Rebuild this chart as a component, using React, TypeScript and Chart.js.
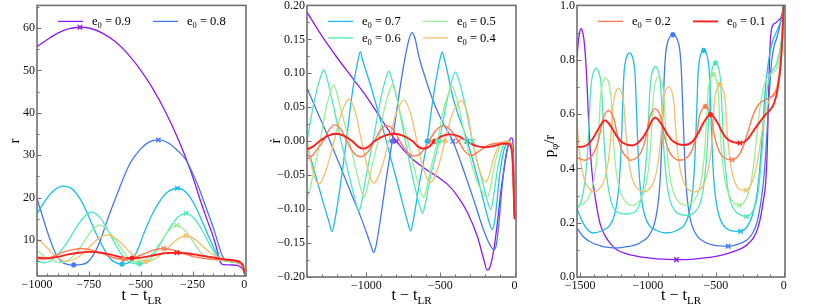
import React, { useEffect, useRef } from "react";
import { Chart, registerables } from "chart.js";

Chart.register(...registerables);

type Pt = [number, number];
const FONT = '"Liberation Serif", "Times New Roman", serif';
const FRAME = "#707070";

// ---- series identity ----
const eccLabels = ["0.9", "0.8", "0.7", "0.6", "0.5", "0.4", "0.2", "0.1"];
const eccColors = ["#8c1cf0", "#4478f2", "#1cbde8", "#4de8c0", "#9aee96", "#f3c06c", "#ff7d52", "#ff1f1f"];
const eccWidths = [1.3, 1.3, 1.3, 1.3, 1.3, 1.3, 1.4, 1.9];

// ---- tick labels ----
const rXTicks = [-1000, -750, -500, -250, 0];
const rYTicks = [10, 20, 30, 40, 50, 60];
const rdXTicks = [-1000, -500, 0];
const rdYTicks = [-0.2, -0.15, -0.1, -0.05, 0, 0.05, 0.1, 0.15, 0.2];
const pXTicks = [-1500, -1000, -500, 0];
const pYTicks = [0, 0.2, 0.4, 0.6, 0.8, 1.0];

// ---- panel 1 : r ----
const r09: Pt[] = [[-1000,55.6],[-950,57.3],[-900,58.8],[-850,59.8],[-793,60.2],[-740,59.9],[-680,58.7],[-620,56.7],[-560,53.8],[-500,50.1],[-440,45.6],[-380,40.2],[-320,33.9],[-278,28.8],[-240,23.6],[-214,19.6],[-180,14.8],[-149,10.6],[-130,7.4],[-120,5.4],[-112,4.5],[-100,4.2],[-60,4.1],[-35,4.0],[-15,3.5],[-5,2.8],[0,2.2]];
const r08: Pt[] = [[-1000,19.8],[-970,15],[-940,10.5],[-910,6.8],[-880,4.8],[-850,4.2],[-823,4.1],[-790,4.2],[-760,4.6],[-730,6.3],[-700,9.2],[-662,14.5],[-620,20],[-580,25],[-551,28.1],[-500,31.5],[-460,33.1],[-415,33.6],[-370,33],[-320,31],[-279,28.7],[-250,25.8],[-214,21.6],[-180,17],[-149,12.8],[-125,9],[-105,6.1],[-90,5.2],[-70,4.9],[-40,4.7],[-20,4.4],[-8,3.7],[0,2.2]];
const r07: Pt[] = [[-1000,16.2],[-960,19.3],[-920,21.6],[-875,22.7],[-830,22],[-790,19.5],[-759,16.5],[-720,12],[-678,8],[-650,5.8],[-630,4.9],[-590,4.3],[-550,4.9],[-518,7.3],[-485,11.5],[-450,15.5],[-410,19],[-370,21.3],[-323,22.2],[-280,21.2],[-240,18.3],[-200,14],[-160,9.5],[-130,6.5],[-105,5.3],[-80,5],[-40,4.7],[-20,4.4],[-8,3.7],[0,2.2]];
const r06: Pt[] = [[-1000,5.2],[-965,4.6],[-930,5.2],[-900,6.5],[-860,9],[-820,12.2],[-780,15],[-737,16.6],[-695,15.2],[-655,12],[-615,8.3],[-580,5.8],[-545,4.6],[-505,4.35],[-470,4.8],[-440,6.3],[-400,9.5],[-360,12.8],[-320,15.4],[-281,16.3],[-240,15],[-200,12],[-160,8.3],[-130,6],[-105,5.3],[-80,5],[-40,4.7],[-20,4.4],[-8,3.7],[0,2.2]];
const r05: Pt[] = [[-1000,7.5],[-960,6],[-920,5],[-883,4.7],[-850,5.2],[-810,7],[-770,9.8],[-735,12.3],[-697,13.5],[-660,12.3],[-620,9.8],[-580,7],[-548,5.2],[-515,4.7],[-480,5.2],[-440,7],[-400,9.8],[-363,12.3],[-325,13.5],[-288,12.3],[-250,9.8],[-210,7],[-170,5.6],[-130,5.3],[-100,5.1],[-60,4.9],[-30,4.6],[-15,4.2],[-5,3.4],[0,2.2]];
const r04: Pt[] = [[-1000,10.3],[-960,8.6],[-920,6.6],[-885,5.4],[-855,5.0],[-820,5.4],[-780,6.8],[-740,8.7],[-700,10.5],[-664,11.2],[-625,10.5],[-585,8.8],[-545,6.8],[-505,5.4],[-473,4.9],[-440,5.3],[-400,6.7],[-360,8.6],[-320,10.3],[-281,11.0],[-240,10.2],[-200,8.5],[-160,6.8],[-125,5.9],[-100,5.5],[-60,5.1],[-30,4.7],[-15,4.2],[-5,3.4],[0,2.2]];
const r02: Pt[] = [[-1000,5.6],[-980,5.5],[-940,5.8],[-890,6.8],[-840,7.6],[-785,8.0],[-735,7.6],[-680,6.7],[-630,5.8],[-582,5.45],[-535,5.8],[-485,6.7],[-440,7.6],[-389,8.0],[-340,7.6],[-290,6.8],[-240,6.0],[-190,5.6],[-140,5.4],[-100,5.3],[-60,5.1],[-30,4.8],[-15,4.3],[-5,3.4],[0,2.2]];
const r01: Pt[] = [[-1000,5.9],[-950,5.7],[-900,6.0],[-850,6.6],[-800,7.0],[-745,7.2],[-690,7.0],[-640,6.5],[-590,5.9],[-542,5.7],[-490,5.9],[-437,6.4],[-380,6.9],[-325,7.0],[-270,6.8],[-220,6.4],[-170,6.0],[-130,5.7],[-90,5.4],[-50,5.2],[-25,4.9],[-10,4.3],[-3,3.4],[0,2.2]];
const rApo: (Pt | null)[] = [[-793,60.2],[-415,33.6],[-323,22.2],[-281,16.3],[-325,13.5],[-281,11.0],[-389,8.0],[-325,7.0]];
const rPeri: (Pt | null)[] = [null,[-823,4.1],[-590,4.3],[-505,4.35],[-515,4.7],[-473,4.9],[-582,5.45],[-542,5.7]];

// ---- panel 2 : r-dot ----
const rd09: Pt[] = [[-1400,0.19],[-1300,0.155],[-1200,0.124],[-1100,0.095],[-1000,0.066],[-900,0.033],[-798,0],[-700,-0.024],[-600,-0.041],[-522,-0.052],[-450,-0.064],[-387,-0.08],[-320,-0.104],[-251,-0.14],[-210,-0.172],[-184,-0.19],[-165,-0.185],[-140,-0.16],[-116,-0.121],[-90,-0.07],[-71,-0.042],[-50,-0.014],[-30,0.003],[-18,0.005],[-8,-0.015],[0,-0.11]];
const rd08: Pt[] = [[-1400,0.078],[-1320,0.038],[-1245,0],[-1170,-0.04],[-1100,-0.078],[-1040,-0.11],[-990,-0.14],[-965,-0.156],[-950,-0.164],[-936,-0.156],[-905,-0.115],[-865,-0.055],[-825,0],[-785,0.06],[-745,0.115],[-712,0.15],[-691,0.16],[-672,0.152],[-645,0.125],[-600,0.092],[-550,0.06],[-490,0.03],[-416,0],[-340,-0.045],[-270,-0.09],[-210,-0.13],[-165,-0.153],[-139,-0.16],[-122,-0.152],[-105,-0.12],[-85,-0.07],[-65,-0.03],[-45,-0.008],[-25,-0.004],[-10,-0.02],[0,-0.11]];
const rd07: Pt[] = [[-1400,-0.005],[-1300,-0.083],[-1250,-0.12],[-1231,-0.133],[-1215,-0.12],[-1175,-0.065],[-1135,0],[-1095,0.07],[-1055,0.12],[-1040,0.132],[-1025,0.12],[-960,0.074],[-865,0],[-780,-0.07],[-720,-0.12],[-702,-0.132],[-686,-0.12],[-640,-0.06],[-589,0],[-545,0.07],[-503,0.12],[-488,0.131],[-472,0.12],[-410,0.06],[-318,0],[-230,-0.07],[-170,-0.12],[-150,-0.13],[-132,-0.115],[-100,-0.05],[-70,-0.012],[-40,-0.002],[-20,-0.006],[0,-0.11]];
const rd06: Pt[] = [[-1400,0],[-1350,0.06],[-1300,0.1],[-1287,0.105],[-1272,0.098],[-1230,0.06],[-1170,0],[-1100,-0.065],[-1062,-0.097],[-1051,-0.103],[-1038,-0.096],[-1000,-0.05],[-955,0],[-900,0.065],[-860,0.098],[-848,0.103],[-835,0.097],[-790,0.06],[-737,0],[-670,-0.07],[-633,-0.1],[-623,-0.106],[-610,-0.1],[-565,-0.05],[-508,0],[-450,0.065],[-410,0.098],[-398,0.102],[-385,0.096],[-340,0.06],[-284,0],[-210,-0.065],[-172,-0.096],[-161,-0.101],[-148,-0.09],[-110,-0.035],[-75,-0.006],[-40,0],[-20,-0.006],[0,-0.11]];
const rd05: Pt[] = [[-1400,-0.083],[-1385,-0.075],[-1350,-0.04],[-1311,0],[-1270,0.05],[-1232,0.078],[-1220,0.083],[-1208,0.078],[-1170,0.045],[-1115,0],[-1060,-0.05],[-1027,-0.078],[-1016,-0.083],[-1004,-0.078],[-965,-0.04],[-921,0],[-875,0.05],[-838,0.078],[-826,0.083],[-814,0.078],[-775,0.045],[-720,0],[-665,-0.05],[-627,-0.078],[-615,-0.083],[-603,-0.078],[-565,-0.04],[-520,0],[-475,0.05],[-432,0.077],[-420,0.081],[-408,0.076],[-370,0.045],[-328,0],[-260,-0.055],[-200,-0.08],[-185,-0.082],[-170,-0.075],[-130,-0.03],[-90,-0.005],[-40,0],[-20,-0.006],[0,-0.11]];
const rd04: Pt[] = [[-1400,0],[-1365,-0.04],[-1340,-0.058],[-1321,-0.063],[-1300,-0.058],[-1260,-0.035],[-1217,0],[-1170,0.04],[-1135,0.058],[-1118,0.062],[-1100,0.058],[-1070,0.04],[-1032,0],[-990,-0.04],[-965,-0.058],[-950,-0.062],[-932,-0.058],[-890,-0.035],[-848,0],[-800,0.04],[-765,0.057],[-747,0.061],[-729,0.057],[-700,0.04],[-658,0],[-615,-0.04],[-585,-0.057],[-567,-0.061],[-549,-0.057],[-510,-0.035],[-470,0],[-420,0.04],[-378,0.056],[-360,0.06],[-342,0.056],[-315,0.04],[-284,0],[-240,-0.04],[-212,-0.056],[-195,-0.06],[-178,-0.055],[-140,-0.025],[-100,-0.005],[-50,0],[-20,-0.005],[0,-0.11]];
const rd02: Pt[] = [[-1400,-0.02],[-1377,-0.023],[-1335,-0.013],[-1291,0],[-1250,0.017],[-1211,0.024],[-1170,0.017],[-1131,0],[-1085,-0.017],[-1038,-0.023],[-990,-0.016],[-946,0],[-905,0.016],[-860,0.023],[-815,0.016],[-774,0],[-725,-0.016],[-675,-0.022],[-625,-0.016],[-577,0],[-530,0.016],[-478,0.023],[-430,0.016],[-379,0],[-335,-0.015],[-290,-0.021],[-240,-0.015],[-180,-0.006],[-120,-0.003],[-60,-0.002],[-30,-0.004],[-10,-0.02],[0,-0.11]];
const rd01: Pt[] = [[-1400,-0.012],[-1360,-0.008],[-1316,0],[-1260,0.008],[-1205,0.011],[-1150,0.008],[-1094,0],[-1055,-0.008],[-1020,-0.011],[-985,-0.008],[-946,0],[-880,0.008],[-816,0.011],[-750,0.008],[-687,0],[-650,-0.008],[-613,-0.011],[-576,-0.008],[-539,0],[-485,0.008],[-430,0.01],[-375,0.007],[-322,0],[-260,-0.007],[-200,-0.009],[-140,-0.007],[-80,-0.004],[-40,-0.004],[-15,-0.02],[0,-0.115]];
const rdApo: (Pt | null)[] = [[-798,0],[-416,0],[-318,0],[-284,0],[-328,0],[-284,0],[-379,0],[-322,0]];
const rdPeri: (Pt | null)[] = [null,[-825,0],[-589,0],[-508,0],[-520,0],[-470,0],[-577,0],[-539,0]];

// ---- panel 3 : p_phi / r ----
const p09: Pt[] = [[-1523,0.81],[-1512,0.872],[-1502,0.903],[-1493,0.914],[-1483,0.905],[-1472,0.875],[-1462,0.82],[-1452,0.74],[-1443,0.64],[-1433,0.53],[-1420,0.43],[-1405,0.35],[-1385,0.28],[-1355,0.2],[-1320,0.155],[-1280,0.125],[-1229,0.1],[-1150,0.084],[-1056,0.074],[-930,0.067],[-790,0.064],[-660,0.066],[-564,0.071],[-480,0.078],[-416,0.086],[-350,0.097],[-293,0.11],[-250,0.128],[-219,0.147],[-190,0.18],[-170,0.22],[-150,0.28],[-133,0.343],[-122,0.45],[-112,0.65],[-103,0.82],[-95,0.89],[-82,0.925],[-60,0.935],[-38,0.945],[-20,0.955],[-8,0.975],[0,1.0]];
const p08: Pt[] = [[-1523,0.18],[-1480,0.15],[-1420,0.128],[-1350,0.115],[-1290,0.109],[-1234,0.107],[-1150,0.112],[-1080,0.12],[-1046,0.13],[-996,0.15],[-956,0.19],[-931,0.25],[-914,0.33],[-904,0.42],[-896,0.52],[-888,0.63],[-880,0.74],[-868,0.83],[-850,0.872],[-834,0.887],[-816,0.892],[-798,0.887],[-782,0.872],[-764,0.83],[-752,0.74],[-744,0.63],[-736,0.52],[-728,0.42],[-718,0.33],[-701,0.25],[-676,0.19],[-636,0.15],[-586,0.13],[-520,0.117],[-409,0.113],[-340,0.12],[-273,0.135],[-230,0.16],[-199,0.196],[-180,0.24],[-162,0.295],[-145,0.37],[-130,0.47],[-115,0.6],[-100,0.72],[-88,0.797],[-70,0.85],[-51,0.88],[-30,0.92],[-14,0.96],[0,1.0]];
const p07: Pt[] = [[-1523,0.25],[-1480,0.2],[-1445,0.175],[-1407,0.162],[-1331,0.172],[-1281,0.19],[-1246,0.23],[-1224,0.29],[-1210,0.36],[-1200,0.45],[-1192,0.55],[-1185,0.65],[-1178,0.74],[-1169,0.785],[-1156,0.813],[-1136,0.825],[-1116,0.813],[-1103,0.785],[-1094,0.74],[-1087,0.65],[-1080,0.55],[-1072,0.45],[-1062,0.36],[-1048,0.29],[-1026,0.23],[-991,0.19],[-941,0.172],[-860,0.162],[-784,0.172],[-734,0.19],[-699,0.23],[-677,0.29],[-663,0.36],[-653,0.45],[-645,0.55],[-638,0.65],[-631,0.745],[-622,0.794],[-609,0.822],[-589,0.834],[-569,0.822],[-556,0.794],[-547,0.745],[-540,0.65],[-533,0.55],[-525,0.45],[-515,0.36],[-501,0.29],[-479,0.23],[-444,0.19],[-394,0.172],[-318,0.168],[-270,0.185],[-235,0.22],[-205,0.28],[-183,0.36],[-165,0.47],[-150,0.58],[-135,0.69],[-118,0.77],[-100,0.83],[-80,0.87],[-55,0.9],[-30,0.93],[-12,0.96],[0,1.0]];
const p06: Pt[] = [[-1523,0.25],[-1497,0.27],[-1474,0.32],[-1457,0.39],[-1444,0.47],[-1435,0.56],[-1427,0.65],[-1420,0.7],[-1412,0.734],[-1400,0.757],[-1382,0.769],[-1364,0.757],[-1352,0.734],[-1344,0.7],[-1337,0.65],[-1329,0.56],[-1320,0.47],[-1307,0.39],[-1290,0.32],[-1267,0.27],[-1232,0.24],[-1163,0.232],[-1095,0.24],[-1060,0.27],[-1037,0.32],[-1020,0.39],[-1007,0.47],[-998,0.56],[-990,0.65],[-983,0.705],[-975,0.74],[-963,0.763],[-945,0.775],[-927,0.763],[-915,0.74],[-907,0.705],[-900,0.65],[-892,0.56],[-883,0.47],[-870,0.39],[-853,0.32],[-830,0.27],[-795,0.24],[-723,0.227],[-652,0.24],[-617,0.27],[-594,0.32],[-577,0.39],[-564,0.47],[-555,0.56],[-547,0.65],[-540,0.715],[-532,0.753],[-520,0.776],[-502,0.788],[-484,0.776],[-472,0.753],[-464,0.715],[-457,0.65],[-449,0.56],[-440,0.47],[-427,0.39],[-410,0.32],[-387,0.27],[-352,0.24],[-273,0.223],[-225,0.245],[-195,0.29],[-175,0.37],[-157,0.48],[-140,0.6],[-122,0.69],[-102,0.74],[-78,0.765],[-52,0.785],[-28,0.835],[-12,0.9],[0,1.0]];
const p05: Pt[] = [[-1523,0.265],[-1509,0.264],[-1446,0.285],[-1414,0.32],[-1394,0.37],[-1379,0.43],[-1368,0.5],[-1359,0.58],[-1351,0.653],[-1341,0.698],[-1329,0.721],[-1311,0.733],[-1293,0.721],[-1281,0.698],[-1271,0.653],[-1263,0.58],[-1254,0.5],[-1243,0.43],[-1228,0.37],[-1208,0.32],[-1176,0.285],[-1116,0.264],[-1056,0.285],[-1024,0.32],[-1004,0.37],[-989,0.43],[-978,0.5],[-969,0.58],[-961,0.659],[-951,0.704],[-939,0.727],[-921,0.739],[-903,0.727],[-891,0.704],[-881,0.659],[-873,0.58],[-864,0.5],[-853,0.43],[-838,0.37],[-818,0.32],[-786,0.285],[-720,0.264],[-655,0.285],[-623,0.32],[-603,0.37],[-588,0.43],[-577,0.5],[-568,0.58],[-560,0.666],[-550,0.711],[-538,0.734],[-520,0.746],[-502,0.734],[-490,0.711],[-480,0.666],[-472,0.58],[-463,0.5],[-452,0.43],[-437,0.37],[-417,0.32],[-385,0.285],[-327,0.264],[-280,0.285],[-248,0.33],[-222,0.41],[-198,0.52],[-175,0.62],[-152,0.69],[-128,0.727],[-102,0.745],[-75,0.755],[-50,0.77],[-28,0.81],[-12,0.88],[0,1.0]];
const p04: Pt[] = [[-1523,0.58],[-1512,0.5],[-1500,0.44],[-1484,0.39],[-1462,0.35],[-1432,0.325],[-1402,0.313],[-1357,0.325],[-1327,0.35],[-1305,0.39],[-1289,0.44],[-1277,0.5],[-1267,0.56],[-1259,0.621],[-1249,0.661],[-1235,0.684],[-1217,0.696],[-1199,0.684],[-1185,0.661],[-1175,0.621],[-1167,0.56],[-1157,0.5],[-1145,0.44],[-1129,0.39],[-1107,0.35],[-1077,0.325],[-1032,0.313],[-988,0.325],[-958,0.35],[-936,0.39],[-920,0.44],[-908,0.5],[-898,0.56],[-890,0.627],[-880,0.667],[-866,0.69],[-848,0.702],[-830,0.69],[-816,0.667],[-806,0.627],[-798,0.56],[-788,0.5],[-776,0.44],[-760,0.39],[-738,0.35],[-708,0.325],[-659,0.313],[-610,0.325],[-580,0.35],[-558,0.39],[-542,0.44],[-530,0.5],[-520,0.56],[-512,0.634],[-502,0.674],[-488,0.697],[-470,0.709],[-452,0.697],[-438,0.674],[-428,0.634],[-420,0.56],[-410,0.5],[-398,0.44],[-382,0.39],[-360,0.35],[-330,0.325],[-278,0.319],[-245,0.335],[-212,0.38],[-185,0.45],[-158,0.54],[-130,0.615],[-102,0.655],[-75,0.675],[-48,0.705],[-25,0.77],[-10,0.86],[0,1.0]];
const p02: Pt[] = [[-1523,0.44],[-1464,0.43],[-1426,0.44],[-1396,0.46],[-1373,0.49],[-1353,0.53],[-1336,0.573],[-1316,0.601],[-1291,0.613],[-1266,0.601],[-1246,0.573],[-1229,0.53],[-1209,0.49],[-1186,0.46],[-1156,0.44],[-1131,0.43],[-1081,0.44],[-1051,0.46],[-1028,0.49],[-1008,0.53],[-991,0.58],[-971,0.608],[-946,0.62],[-921,0.608],[-901,0.58],[-884,0.53],[-864,0.49],[-841,0.46],[-811,0.44],[-774,0.43],[-712,0.44],[-682,0.46],[-659,0.49],[-639,0.53],[-622,0.588],[-602,0.616],[-577,0.628],[-552,0.616],[-532,0.588],[-515,0.53],[-495,0.49],[-472,0.46],[-442,0.44],[-379,0.432],[-335,0.445],[-298,0.48],[-260,0.54],[-222,0.6],[-185,0.635],[-145,0.65],[-105,0.66],[-72,0.67],[-45,0.7],[-25,0.76],[-10,0.86],[0,1.0]];
const p01: Pt[] = [[-1523,0.48],[-1513,0.479],[-1446,0.487],[-1406,0.51],[-1371,0.54],[-1341,0.565],[-1316,0.577],[-1291,0.567],[-1261,0.545],[-1226,0.515],[-1186,0.494],[-1115,0.484],[-1076,0.493],[-1036,0.515],[-1001,0.545],[-971,0.575],[-946,0.587],[-921,0.577],[-891,0.555],[-856,0.525],[-816,0.5],[-730,0.486],[-669,0.5],[-629,0.53],[-594,0.565],[-564,0.588],[-539,0.598],[-514,0.588],[-484,0.565],[-449,0.53],[-409,0.505],[-322,0.493],[-270,0.505],[-220,0.54],[-170,0.575],[-130,0.6],[-100,0.615],[-70,0.64],[-45,0.69],[-25,0.77],[-10,0.88],[0,1.0]];
const pApo: (Pt | null)[] = [[-790,0.064],[-409,0.113],[-318,0.168],[-273,0.223],[-327,0.264],[-278,0.319],[-379,0.432],[-322,0.493]];
const pPeri: (Pt | null)[] = [null,[-816,0.892],[-589,0.834],[-502,0.788],[-520,0.746],[-470,0.709],[-577,0.628],[-539,0.598]];

type Part = { t: string; s: number; dy?: number };

function drawParts(ctx: CanvasRenderingContext2D, parts: Part[], x: number, y: number, align: string) {
  let w = 0;
  for (const p of parts) { ctx.font = `${p.s}px ${FONT}`; w += ctx.measureText(p.t).width; }
  let cx = align === "center" ? x - w / 2 : x;
  ctx.textAlign = "left";
  ctx.textBaseline = "alphabetic";
  for (const p of parts) {
    ctx.font = `${p.s}px ${FONT}`;
    ctx.fillText(p.t, cx, y + (p.dy || 0));
    cx += ctx.measureText(p.t).width;
  }
}

const minus = (s: string) => s.replace("-", "\u2212");

interface PanelCfg {
  left: number; width: number; yAxisW: number; padRight: number; xAxisH: number;
  xMin: number; xMax: number; yMin: number; yMax: number;
  xTicks: number[]; yTicks: number[]; xMinor: number; yMinor: number;
  xFmt: (v: number) => string; yFmt: (v: number) => string;
  series: Pt[][]; apo: (Pt | null)[]; peri: (Pt | null)[];
  legend: [number, number, number][];
  yTitle: Part[]; yTitleX: number; yTitleY: number;
}

const panels: PanelCfg[] = [
  {
    left: 0, width: 262, yAxisW: 37, padRight: 16, xAxisH: 32,
    xMin: -1000, xMax: 8, yMin: 1.5, yMax: 65.35,
    xTicks: rXTicks, yTicks: rYTicks, xMinor: 50, yMinor: 5,
    xFmt: (v) => (v === 0 ? "0" : minus(String(v))), yFmt: (v) => String(v),
    series: [r09, r08, r07, r06, r05, r04, r02, r01], apo: rApo, peri: rPeri,
    legend: [[0, 0, 0], [1, 1, 0]],
    yTitle: [{ t: "r", s: 15 }], yTitleX: 19, yTitleY: 141,
  },
  {
    left: 262, width: 268, yAxisW: 45, padRight: 14, xAxisH: 31,
    xMin: -1400, xMax: 10, yMin: -0.2, yMax: 0.2,
    xTicks: rdXTicks, yTicks: rdYTicks, xMinor: 100, yMinor: 0.025,
    xFmt: (v) => (v === 0 ? "0" : minus(String(v))), yFmt: (v) => minus(v.toFixed(2)),
    series: [rd09, rd08, rd07, rd06, rd05, rd04, rd02, rd01], apo: rdApo, peri: rdPeri,
    legend: [[2, 0, 0], [4, 1, 0], [3, 0, 1], [5, 1, 1]],
    yTitle: [{ t: "\u1E59", s: 15 }], yTitleX: 18, yTitleY: 141,
  },
  {
    left: 530, width: 292, yAxisW: 47, padRight: 37, xAxisH: 31,
    xMin: -1523, xMax: 10, yMin: 0, yMax: 1,
    xTicks: pXTicks, yTicks: pYTicks, xMinor: 100, yMinor: 0.1,
    xFmt: (v) => (v === 0 ? "0" : minus(String(v))), yFmt: (v) => v.toFixed(1),
    series: [p09, p08, p07, p06, p05, p04, p02, p01], apo: pApo, peri: pPeri,
    legend: [[6, 0, 0], [7, 1, 0]],
    yTitle: [{ t: "p", s: 15 }, { t: "\u03C6", s: 10.5, dy: 3.5 }, { t: "/r", s: 15 }], yTitleX: 24, yTitleY: 146,
  },
];

function Panel({ cfg }: { cfg: PanelCfg }) {
  const ref = useRef<HTMLCanvasElement>(null);
  useEffect(() => {
    const canvas = ref.current;
    if (!canvas) return;
    const datasets: any[] = [];
    cfg.series.forEach((s, i) => {
      datasets.push({
        data: s.map(([x, y]) => ({ x, y })),
        borderColor: eccColors[i], backgroundColor: eccColors[i], borderWidth: eccWidths[i],
        pointRadius: 0, pointHoverRadius: 0, fill: false, cubicInterpolationMode: "monotone",
        order: 10 - i,
      });
      const a = cfg.apo[i];
      if (a) datasets.push({
        data: [{ x: a[0], y: a[1] }], showLine: false, pointStyle: "crossRot", pointRadius: 3.2,
        borderColor: eccColors[i], backgroundColor: eccColors[i], pointBorderWidth: 1.4, order: 0,
      });
      const p = cfg.peri[i];
      if (p) datasets.push({
        data: [{ x: p[0], y: p[1] }], showLine: false, pointStyle: "circle", pointRadius: 2.4,
        borderColor: eccColors[i], backgroundColor: eccColors[i], pointBorderWidth: 0.5, order: 0,
      });
    });

    const decor = {
      id: "decor",
      afterDraw(chart: any) {
        const ctx: CanvasRenderingContext2D = chart.ctx;
        const a = chart.chartArea;
        const xs = chart.scales.x, ys = chart.scales.y;
        ctx.save();
        ctx.strokeStyle = FRAME;
        ctx.lineWidth = 1;
        ctx.beginPath();
        const xStart = Math.ceil(cfg.xMin / cfg.xMinor) * cfg.xMinor;
        for (let v = xStart; v <= cfg.xMax + 1e-9; v += cfg.xMinor) {
          const major = cfg.xTicks.some((t) => Math.abs(t - v) < 1e-6);
          const px = Math.round(xs.getPixelForValue(v)) + 0.5;
          ctx.moveTo(px, a.bottom); ctx.lineTo(px, a.bottom - (major ? 4.5 : 2.5));
        }
        const yStart = Math.ceil((cfg.yMin - 1e-9) / cfg.yMinor) * cfg.yMinor;
        for (let v = yStart; v <= cfg.yMax + 1e-9; v += cfg.yMinor) {
          const major = cfg.yTicks.some((t) => Math.abs(t - v) < 1e-6);
          const py = Math.round(ys.getPixelForValue(v)) + 0.5;
          ctx.moveTo(a.left, py); ctx.lineTo(a.left + (major ? 4.5 : 2.5), py);
        }
        ctx.stroke();
        ctx.lineWidth = 1.6;
        ctx.strokeRect(a.left, a.top, a.right - a.left, a.bottom - a.top);

        // legend
        ctx.fillStyle = "#000";
        for (const [si, col, row] of cfg.legend) {
          const ly = a.top + 16 + row * 16.5;
          const lx = a.left + (col === 0 ? 21 : 116);
          ctx.strokeStyle = eccColors[si];
          ctx.lineWidth = eccWidths[si];
          ctx.beginPath(); ctx.moveTo(lx, ly); ctx.lineTo(lx + 25, ly); ctx.stroke();
          drawParts(ctx, [{ t: "e", s: 12.5 }, { t: "0", s: 8.5, dy: 3 }, { t: " = " + eccLabels[si], s: 12.5 }], lx + 34, ly + 4, "left");
        }

        // axis titles
        drawParts(ctx, [{ t: "t \u2212 t", s: 16 }, { t: "LR", s: 11, dy: 3.5 }], (a.left + a.right) / 2, 300, "center");
        ctx.save();
        ctx.translate(cfg.yTitleX, cfg.yTitleY);
        ctx.rotate(-Math.PI / 2);
        drawParts(ctx, cfg.yTitle, 0, 0, "center");
        ctx.restore();
        ctx.restore();
      },
    };

    const chart = new Chart(canvas, {
      type: "line",
      data: { datasets },
      options: {
        responsive: false,
        animation: false,
        devicePixelRatio: 1,
        events: [],
        layout: { padding: { left: 0, right: cfg.padRight, top: 5, bottom: 0 } },
        plugins: { legend: { display: false }, tooltip: { enabled: false } },
        scales: {
          x: {
            type: "linear", min: cfg.xMin, max: cfg.xMax,
            grid: { display: false, drawTicks: false }, border: { display: false },
            afterBuildTicks: (s: any) => { s.ticks = cfg.xTicks.map((v) => ({ value: v })); },
            afterFit: (s: any) => { s.height = cfg.xAxisH; s.paddingLeft = 0; s.paddingRight = 0; },
            ticks: {
              font: { family: FONT, size: 12 }, color: "#111", padding: 2, maxRotation: 0, autoSkip: false,
              callback: (v: any) => cfg.xFmt(Number(v)),
            },
          },
          y: {
            type: "linear", min: cfg.yMin, max: cfg.yMax,
            grid: { display: false, drawTicks: false }, border: { display: false },
            afterBuildTicks: (s: any) => { s.ticks = cfg.yTicks.map((v) => ({ value: v })); },
            afterFit: (s: any) => { s.width = cfg.yAxisW; s.paddingTop = 0; s.paddingBottom = 0; },
            ticks: {
              font: { family: FONT, size: 12 }, color: "#111", padding: 2, autoSkip: false,
              callback: (v: any) => cfg.yFmt(Number(v)),
            },
          },
        },
      },
      plugins: [decor],
    } as any);
    return () => chart.destroy();
  }, [cfg]);
  return (
    <canvas
      ref={ref}
      width={cfg.width}
      height={308}
      style={{ position: "absolute", left: cfg.left, top: 0, width: cfg.width, height: 308 }}
    />
  );
}

export default function App() {
  return (
    <div style={{ position: "fixed", left: 0, top: 0, width: 822, height: 308, background: "#fff", overflow: "hidden" }}>
      {panels.map((p, i) => (
        <Panel key={i} cfg={p} />
      ))}
    </div>
  );
}
